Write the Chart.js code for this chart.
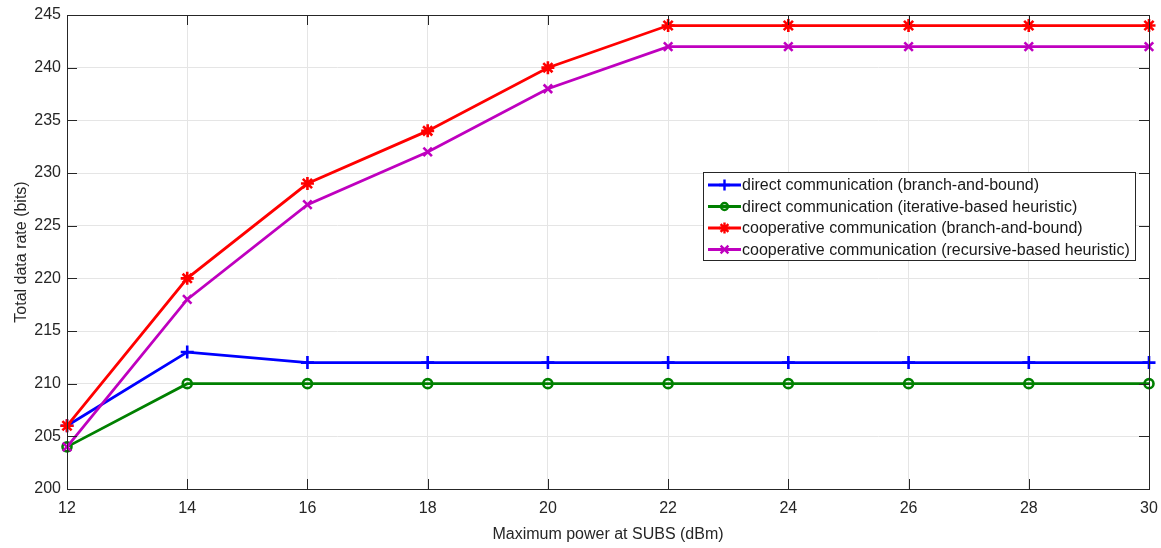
<!DOCTYPE html>
<html>
<head>
<meta charset="utf-8">
<script src="https://cdn.jsdelivr.net/npm/chart.js@4.4.1/dist/chart.umd.min.js"></script>
<style>
  html, body { margin: 0; padding: 0; background: #fff; }
  #wrap { width: 1161px; height: 548px; }
</style>
</head>
<body>
<div id="wrap"><canvas id="myChart" width="1161" height="548"></canvas></div>
<script>
// Maximum power at SUBS (dBm)
const powerLevels = [12, 14, 16, 18, 20, 22, 24, 26, 28, 30];

// Total data rate (bits) for each scheme
const directBnB = [206, 213, 212, 212, 212, 212, 212, 212, 212, 212];
const directIterative = [204, 210, 210, 210, 210, 210, 210, 210, 210, 210];
const coopBnB = [206, 220, 229, 234, 240, 244, 244, 244, 244, 244];
const coopRecursive = [204, 218, 227, 232, 238, 242, 242, 242, 242, 242];

const seriesNames = [
  'direct communication (branch-and-bound)',
  'direct communication (iterative-based heuristic)',
  'cooperative communication (branch-and-bound)',
  'cooperative communication (recursive-based heuristic)'
];

const FONT = '"Liberation Sans", Arial, Helvetica, sans-serif';

function toPoints(values) {
  return powerLevels.map((x, i) => ({ x: x, y: values[i] }));
}

// later series are plotted over earlier ones
function makeSet(idx, values, color, style, radius) {
  return {
    label: seriesNames[idx],
    data: toPoints(values),
    order: 3 - idx,
    borderColor: color,
    backgroundColor: color,
    borderWidth: 2.8,
    pointStyle: style,
    pointRadius: radius,
    pointHoverRadius: radius,
    pointBorderWidth: 2.6,
    pointBorderColor: color,
    pointBackgroundColor: style === 'circle' ? 'rgba(0,0,0,0)' : color,
    tension: 0,
    clip: false
  };
}

// Box, inward ticks and the legend in the upper right of the axes
const matlabFrame = {
  id: 'matlabFrame',
  afterDraw(chart) {
    const c = chart.ctx;
    const a = chart.chartArea;
    const xs = chart.scales.x;
    const ys = chart.scales.y;
    c.save();
    c.strokeStyle = '#262626';
    c.lineWidth = 1;
    c.strokeRect(a.left + 0.5, a.top + 0.5, a.right - a.left, a.bottom - a.top);
    c.beginPath();
    for (let v = 12; v <= 30; v += 2) {
      const px = Math.round(xs.getPixelForValue(v)) + 0.5;
      c.moveTo(px, a.bottom); c.lineTo(px, a.bottom - 10);
      c.moveTo(px, a.top); c.lineTo(px, a.top + 10);
    }
    for (let v = 200; v <= 245; v += 5) {
      const py = Math.round(ys.getPixelForValue(v)) + 0.5;
      c.moveTo(a.left, py); c.lineTo(a.left + 10, py);
      c.moveTo(a.right, py); c.lineTo(a.right - 10, py);
    }
    c.stroke();

    // legend
    const lx = 703, ly = 172, lw = 432, lh = 88;
    c.fillStyle = '#fff';
    c.fillRect(lx, ly, lw, lh);
    c.strokeStyle = '#262626';
    c.lineWidth = 1;
    c.strokeRect(lx + 0.5, ly + 0.5, lw, lh);
    c.font = '16px ' + FONT;
    c.textBaseline = 'middle';
    chart.data.datasets.forEach((ds, i) => {
      const y = ly + 13 + i * 21.5;
      c.strokeStyle = ds.borderColor;
      c.lineWidth = 2.8;
      c.beginPath();
      c.moveTo(lx + 5, y); c.lineTo(lx + 38, y);
      c.stroke();
      c.fillStyle = ds.pointBackgroundColor;
      c.strokeStyle = ds.pointBorderColor;
      c.lineWidth = 2.4;
      Chart.helpers.drawPoint(c, {
        pointStyle: ds.pointStyle, rotation: 0,
        radius: ds.pointStyle === 'circle' ? 3.5 : 5.5, borderWidth: 2.4
      }, lx + 21.5, y);
      c.fillStyle = '#1a1a1a';
      c.fillText(ds.label, lx + 39, y + 1);
    });
    c.restore();
  }
};

const ctx = document.getElementById('myChart').getContext('2d');
const myChart = new Chart(ctx, {
  type: 'line',
  data: {
    datasets: [
      makeSet(0, directBnB, '#0000ff', 'cross', 6.5),
      makeSet(1, directIterative, '#008000', 'circle', 4.5),
      makeSet(2, coopBnB, '#ff0000', 'star', 6.5),
      makeSet(3, coopRecursive, '#bf00bf', 'crossRot', 6)
    ]
  },
  options: {
    responsive: false,
    animation: false,
    layout: { padding: { left: 0, top: 15, right: 12, bottom: 0 } },
    plugins: {
      legend: { display: false },
      tooltip: { enabled: false }
    },
    scales: {
      x: {
        type: 'linear',
        min: 12,
        max: 30,
        ticks: {
          stepSize: 2,
          color: '#262626',
          font: { family: FONT, size: 16 },
          padding: 10
        },
        grid: { color: '#e5e5e5', drawTicks: false, lineWidth: 1 },
        border: { display: false },
        title: {
          display: true,
          text: 'Maximum power at SUBS (dBm)',
          color: '#262626',
          font: { family: FONT, size: 16 },
          padding: { top: 2 }
        },
        afterFit(scale) {
          scale.height = 59;
          scale.paddingLeft = 0;
          scale.paddingRight = 0;
        }
      },
      y: {
        min: 200,
        max: 245,
        ticks: {
          stepSize: 5,
          color: '#262626',
          font: { family: FONT, size: 16 },
          padding: 6
        },
        grid: { color: '#e5e5e5', drawTicks: false, lineWidth: 1 },
        border: { display: false },
        title: {
          display: true,
          text: 'Total data rate (bits)',
          color: '#262626',
          font: { family: FONT, size: 16 },
          padding: { top: 12, bottom: 2 }
        },
        afterFit(scale) {
          scale.width = 67;
          scale.paddingTop = 0;
          scale.paddingBottom = 0;
        }
      }
    }
  },
  plugins: [matlabFrame]
});
</script>
</body>
</html>
